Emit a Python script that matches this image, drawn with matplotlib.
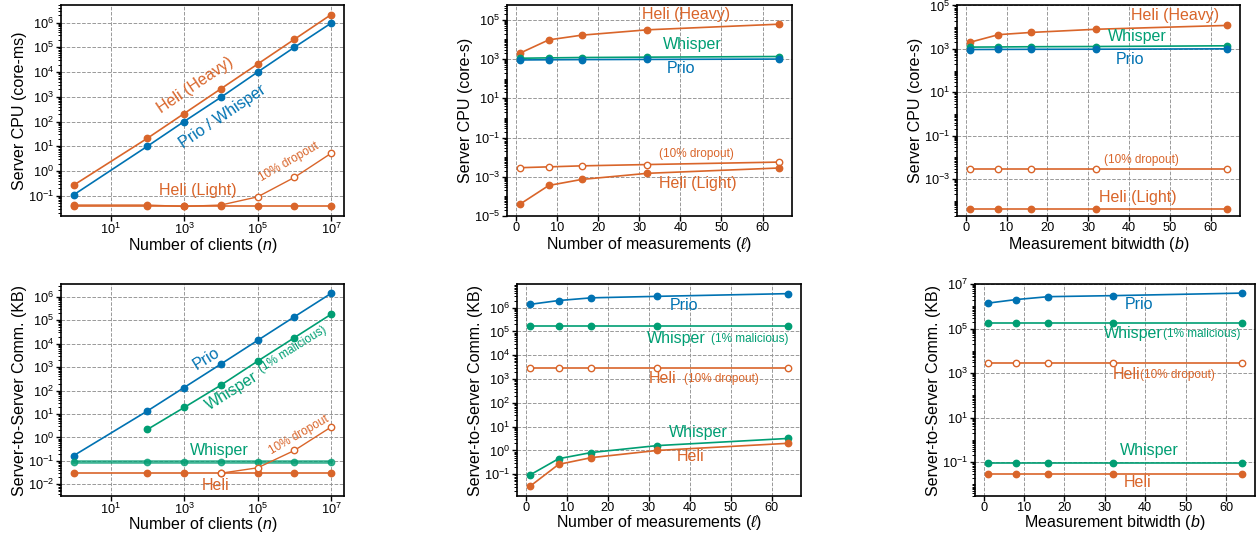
import numpy as np
import matplotlib
matplotlib.use("Agg")
import matplotlib.pyplot as plt
from matplotlib import ticker

plt.rcParams["font.family"] = ["Liberation Sans", "DejaVu Sans"]
plt.rcParams["mathtext.fontset"] = "custom"
plt.rcParams["mathtext.rm"] = "Liberation Sans"
plt.rcParams["mathtext.it"] = "Liberation Sans:italic"
plt.rcParams["font.size"] = 9.2

BLUE = "#0072B2"
GREEN = "#009E73"
ORANGE = "#D9652A"

# x values
clients = [1, 1e2, 1e3, 1e4, 1e5, 1e6, 1e7]
measurements = [1, 8, 16, 32, 64]
bitwidths = [1, 8, 16, 32, 64]

# server CPU vs clients (core-ms)
cpu_heli_heavy_n = [0.27, 21, 210, 2100, 2.1e4, 2.1e5, 2.1e6]
cpu_prio_whisper_n = [0.11, 10, 100, 950, 1e4, 1e5, 9.5e5]
cpu_heli_light_n = [0.039, 0.039, 0.039, 0.039, 0.039, 0.039, 0.039]
cpu_heli_drop_n = [0.042, 0.042, 0.037, 0.042, 0.09, 0.55, 5.2]

# server CPU vs measurements (core-s)
cpu_heli_heavy_l = [2000, 9500, 1.65e4, 3.1e4, 6e4]
cpu_whisper_l = [1100, 1150, 1200, 1250, 1350]
cpu_prio_l = [900, 920, 940, 960, 1000]
cpu_heli_drop_l = [0.0029, 0.0032, 0.0036, 0.0042, 0.0056]
cpu_heli_light_l = [4e-5, 3.6e-4, 7.3e-4, 1.5e-3, 2.8e-3]

# server CPU vs bitwidth (core-s)
cpu_heli_heavy_b = [2000, 4500, 5700, 8000, 1.2e4]
cpu_whisper_b = [1200, 1220, 1250, 1280, 1380]
cpu_prio_b = [930, 940, 950, 960, 1000]
cpu_heli_drop_b = [0.0028, 0.0028, 0.0028, 0.0028, 0.0028]
cpu_heli_light_b = [4e-5, 4e-5, 4e-5, 4e-5, 4e-5]

# server-to-server comm vs clients (KB)
comm_prio_n = [0.17, 13.5, 135, 1350, 1.38e4, 1.4e5, 1.4e6]
comm_whisper_mal_n = [2.2, 19, 170, 1800, 1.8e4, 1.8e5]  # from n=100
comm_whisper_n = [0.09, 0.09, 0.09, 0.09, 0.09, 0.09, 0.09]
comm_heli_n = [0.03, 0.03, 0.03, 0.03, 0.03, 0.03, 0.03]
comm_heli_drop_n = [0.03, 0.051, 0.28, 2.8]  # from n=1e4

# server-to-server comm vs measurements (KB)
comm_prio_l = [1.38e6, 2e6, 2.6e6, 3e6, 3.9e6]
comm_whisper_mal_l = [1.7e5, 1.7e5, 1.7e5, 1.7e5, 1.7e5]
comm_heli_drop_l = [2800, 2800, 2800, 2800, 2800]
comm_whisper_l = [0.093, 0.45, 0.82, 1.6, 3.2]
comm_heli_l = [0.031, 0.26, 0.5, 1.0, 2.0]

# server-to-server comm vs bitwidth (KB)
comm_prio_b = [1.38e6, 2e6, 2.7e6, 3e6, 3.9e6]
comm_whisper_mal_b = [1.7e5, 1.7e5, 1.7e5, 1.7e5, 1.7e5]
comm_heli_drop_b = [2800, 2800, 2800, 2800, 2800]
comm_whisper_b = [0.09, 0.09, 0.09, 0.09, 0.09]
comm_heli_b = [0.03, 0.03, 0.03, 0.03, 0.03]


def line(ax, x, y, color, hollow=False, lw=1.2, alpha=1.0):
    ax.plot(x, y, "-o", color=color, lw=lw, markersize=4.6, alpha=alpha,
            markerfacecolor="white" if hollow else color,
            markeredgewidth=1.0)


def label(ax, x, y, s, color, size=11.5, rot=0):
    ax.text(x, y, s, color=color, fontsize=size, rotation=rot,
            ha="center", va="center", rotation_mode="anchor")


def style(ax, xlabel, ylabel, xlog=False, ystride=1, label_drop=28):
    ax.set_yscale("log")
    if xlog:
        ax.set_xscale("log")
        ax.xaxis.set_major_locator(ticker.FixedLocator([1e1, 1e3, 1e5, 1e7]))
        ax.xaxis.set_minor_locator(ticker.NullLocator())
    lo, hi = ax.get_ylim()
    start = -9 if ystride == 2 else -8
    decs = 10.0 ** np.arange(start, 10, ystride)
    decs = decs[(decs >= lo * 0.999) & (decs <= hi * 1.001)]
    ax.yaxis.set_major_locator(ticker.FixedLocator(decs))
    ax.yaxis.set_minor_locator(ticker.LogLocator(base=10, subs=np.arange(1, 10), numticks=100))
    ax.yaxis.set_minor_formatter(ticker.NullFormatter())
    ax.set_ylim(lo, hi)
    ax.grid(True, which="major", ls="--", color="#999999", lw=0.7)
    for sp in ax.spines.values():
        sp.set_linewidth(1.2)
    ax.tick_params(which="major", length=3.5, width=1.0, pad=1.5)
    ax.tick_params(axis="x", which="major", pad=0.5)
    ax.tick_params(which="minor", length=2, width=0.7)
    ax.set_xlabel(xlabel, fontsize=11.5, va="center")
    h_px = ax.get_position().height * H
    ax.xaxis.set_label_coords(0.5, -label_drop / h_px)
    ax.set_ylabel(ylabel, fontsize=11.5, labelpad=1)


W, H = 1257, 533
fig = plt.figure(figsize=(W / 100, H / 100), dpi=100)


def axes(l, r, t, b):
    return fig.add_axes([l / W, 1 - b / H, (r - l) / W, (b - t) / H])


ax1 = axes(61, 344, 5, 216)
ax2 = axes(507, 792, 5, 216)
ax3 = axes(957, 1240, 5, 216)
ax4 = axes(61, 344, 284, 496)
ax5 = axes(517, 801, 284, 496)
ax6 = axes(975, 1255, 284, 496)

# panel 1
line(ax1, clients, cpu_heli_heavy_n, ORANGE)
line(ax1, clients, cpu_prio_whisper_n, BLUE)
line(ax1, clients, cpu_heli_drop_n, ORANGE, hollow=True, lw=1.0)
line(ax1, clients, cpu_heli_light_n, ORANGE)
ax1.set_xscale("log")
ax1.set_yscale("log")
style(ax1, "Number of clients ($n$)", "Server CPU (core-ms)", xlog=True, label_drop=29.5)
label(ax1, 10**3.3, 10**3.48, "Heli (Heavy)", ORANGE, rot=34)
label(ax1, 10**4.05, 10**2.2, "Prio / Whisper", BLUE, rot=34)
label(ax1, 10**3.36, 10**-0.77, "Heli (Light)", ORANGE)
label(ax1, 10**5.86, 10**0.34, "10% dropout", ORANGE, size=8.5, rot=30)

# panel 2
line(ax2, measurements, cpu_heli_heavy_l, ORANGE)
line(ax2, measurements, cpu_whisper_l, GREEN)
line(ax2, measurements, cpu_prio_l, BLUE)
line(ax2, measurements, cpu_heli_drop_l, ORANGE, hollow=True)
line(ax2, measurements, cpu_heli_light_l, ORANGE)
ax2.set_yscale("log")
ax2.set_ylim(1e-5, 5.7e5)
style(ax2, "Number of measurements ($\\ell$)", "Server CPU (core-s)", ystride=2, label_drop=29)
label(ax2, 41.4, 10**5.25, "Heli (Heavy)", ORANGE)
label(ax2, 42.9, 10**3.73, "Whisper", GREEN)
label(ax2, 40.2, 10**2.51, "Prio", BLUE)
label(ax2, 44.0, 10**-1.86, "(10% dropout)", ORANGE, size=8.5)
label(ax2, 44.3, 10**-3.36, "Heli (Light)", ORANGE)

# panel 3
line(ax3, bitwidths, cpu_heli_heavy_b, ORANGE)
line(ax3, bitwidths, cpu_whisper_b, GREEN)
line(ax3, bitwidths, cpu_prio_b, BLUE)
line(ax3, bitwidths, cpu_heli_drop_b, ORANGE, hollow=True)
line(ax3, bitwidths, cpu_heli_light_b, ORANGE)
ax3.set_yscale("log")
ax3.set_ylim(1.95e-5, 1.05e5)
style(ax3, "Measurement bitwidth ($b$)", "Server CPU (core-s)", ystride=2, label_drop=29)
label(ax3, 51.3, 10**4.54, "Heli (Heavy)", ORANGE)
label(ax3, 42.0, 10**3.56, "Whisper", GREEN)
label(ax3, 40.3, 10**2.51, "Prio", BLUE)
label(ax3, 43.1, 10**-2.15, "(10% dropout)", ORANGE, size=8.5)
label(ax3, 42.2, 10**-3.85, "Heli (Light)", ORANGE)

# panel 4
line(ax4, clients, comm_prio_n, BLUE)
line(ax4, clients[1:], comm_whisper_mal_n, GREEN)
line(ax4, clients, comm_whisper_n, GREEN, lw=2.6, alpha=0.75)
line(ax4, clients, comm_heli_n, ORANGE)
line(ax4, clients[3:], comm_heli_drop_n, ORANGE, hollow=True, lw=1.0)
ax4.set_xscale("log")
ax4.set_yscale("log")
ax4.set_ylim(3.2e-3, 3.5e6)
style(ax4, "Number of clients ($n$)", "Server-to-Server Comm. (KB)", xlog=True, label_drop=28)
label(ax4, 10**3.61, 10**3.37, "Prio", BLUE, rot=32)
label(ax4, 10**4.29, 10**1.99, "Whisper", GREEN, rot=32)
label(ax4, 10**5.95, 10**3.76, "(1% malicious)", GREEN, size=8.5, rot=32)
label(ax4, 10**3.95, 10**-0.57, "Whisper", GREEN)
label(ax4, 10**3.86, 10**-2.04, "Heli", ORANGE)
label(ax4, 10**6.12, 10**0.1, "10% dropout", ORANGE, size=8.5, rot=30)

# panel 5
line(ax5, measurements, comm_prio_l, BLUE)
line(ax5, measurements, comm_whisper_mal_l, GREEN)
line(ax5, measurements, comm_heli_drop_l, ORANGE, hollow=True)
line(ax5, measurements, comm_whisper_l, GREEN)
line(ax5, measurements, comm_heli_l, ORANGE)
ax5.set_yscale("log")
style(ax5, "Number of measurements ($\\ell$)", "Server-to-Server Comm. (KB)", label_drop=27)
label(ax5, 38.5, 10**6.08, "Prio", BLUE)
label(ax5, 36.8, 10**4.72, "Whisper", GREEN)
label(ax5, 54.6, 10**4.69, "(1% malicious)", GREEN, size=8.5)
label(ax5, 33.3, 10**3.03, "Heli", ORANGE)
label(ax5, 47.7, 10**3.0, "(10% dropout)", ORANGE, size=8.5)
label(ax5, 42.2, 10**0.75, "Whisper", GREEN)
label(ax5, 40.2, 10**-0.27, "Heli", ORANGE)

# panel 6
line(ax6, bitwidths, comm_prio_b, BLUE)
line(ax6, bitwidths, comm_whisper_mal_b, GREEN)
line(ax6, bitwidths, comm_heli_drop_b, ORANGE, hollow=True)
line(ax6, bitwidths, comm_whisper_b, GREEN)
line(ax6, bitwidths, comm_heli_b, ORANGE)
ax6.set_yscale("log")
ax6.set_ylim(3e-3, 1e7)
style(ax6, "Measurement bitwidth ($b$)", "Server-to-Server Comm. (KB)", ystride=2, label_drop=27)
label(ax6, 38.4, 10**6.08, "Prio", BLUE)
label(ax6, 37.0, 10**4.76, "Whisper", GREEN)
label(ax6, 54.0, 10**4.76, "(1% malicious)", GREEN, size=8.5)
label(ax6, 35.4, 10**2.93, "Heli", ORANGE)
label(ax6, 48.0, 10**2.93, "(10% dropout)", ORANGE, size=8.5)
label(ax6, 41.1, 10**-0.48, "Whisper", GREEN)
label(ax6, 38.2, 10**-1.93, "Heli", ORANGE)

fig.savefig("out.png", dpi=100)
